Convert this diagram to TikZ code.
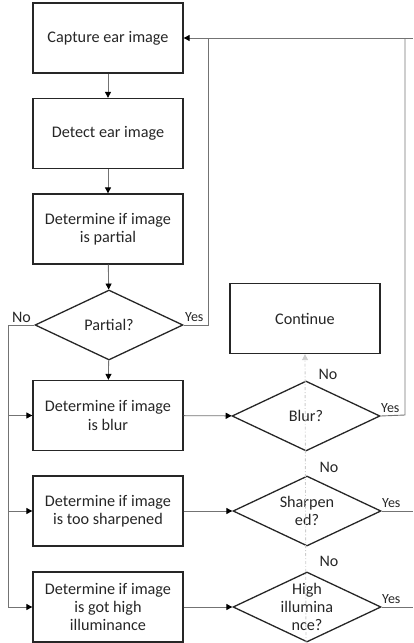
\documentclass[tikz,border=0pt]{standalone}
\usepackage{fontspec}
\setmainfont{Carlito}
\usetikzlibrary{shapes.geometric,arrows.meta}

\tikzset{
    procbox/.style={draw=black!85, line width=1.3pt, minimum width=150pt, minimum height=70pt,
        align=center, font=\fontsize{16.2}{18.4}\selectfont, text=black!85},
    decision/.style={draw=black!85, line width=1.3pt, diamond, inner sep=0pt,
        minimum width=148pt, minimum height=70pt},
    qtext/.style={align=center, font=\fontsize{16.2}{18.4}\selectfont, text=black!85},
    link/.style={draw=black!55, line width=0.9pt},
    arrow/.style={link, -{Triangle[length=6pt,width=6pt,fill=black,color=black]}},
    faint/.style={draw=black!20, line width=0.9pt, dash dot, -{Triangle[length=6pt,width=6pt]}},
    nolbl/.style={font=\fontsize{16}{18}\selectfont, text=black!85},
    yeslbl/.style={font=\fontsize{14}{16}\selectfont, text=black!85}
}

\begin{document}
\begin{tikzpicture}[x=1pt,y=-1pt]
    \useasboundingbox (0,0) rectangle (413,643);

    % Left column of steps
    \node[procbox] (cap) at (108,38) {Capture ear image};
    \node[procbox] (det) at (108,133.5) {Detect ear image};
    \node[procbox] (part) at (108,229) {Determine if image\\is partial};
    \node[decision, label={[qtext]center:Partial?}] (partq) at (109,325) {};
    \node[procbox] (blurb) at (108,415.5) {Determine if image\\is blur};
    \node[procbox] (sharpb) at (108,511) {Determine if image\\is too sharpened};
    \node[procbox] (highb) at (108,607) {Determine if image\\is got high\\illuminance};

    % Right column of checks
    \node[procbox] (cont) at (305,318.5) {Continue};
    \node[decision, label={[qtext]center:Blur?}] (blurq) at (306,416) {};
    \node[decision, label={[qtext]center:Sharpen\\ed?}] (sharpq) at (307,511) {};
    \node[decision, label={[qtext]center:High\\illumina\\nce?}] (highq) at (307,607) {};

    % Helper points for the loops
    \coordinate (noline) at (8,325);
    \coordinate (backin) at (208,325);
    \coordinate (backtop) at (208,38);
    \coordinate (topend) at (413,38);
    \coordinate (yesline) at (405,415);
    \coordinate (yestop) at (405,38);
    \coordinate (sharpend) at (413,511);
    \coordinate (highend) at (413,607);
    \coordinate (faintstart) at (306,643);

    % Main flow downwards
    \draw[arrow] (cap) -- (det);
    \draw[arrow] (det) -- (part);
    \draw[arrow] (part) -- (partq);
    \draw[arrow] (partq) -- (blurb);

    % Boxes into checks
    \draw[arrow] (blurb) -- (blurq);
    \draw[arrow] (sharpb) -- (sharpq);
    \draw[arrow] (highb) -- (highq);

    % No branch of Partial?
    \draw[link] (partq.west) -- (noline) -- (noline |- highb.west);
    \draw[arrow] (noline |- blurb.west) -- (blurb.west);
    \draw[arrow] (noline |- sharpb.west) -- (sharpb.west);
    \draw[arrow] (noline |- highb.west) -- (highb.west);

    % Yes branches back to capture
    \draw[link] (partq.east) -- (backin) -- (backtop);
    \draw[arrow] (topend) -- (cap.east);
    \draw[link] (blurq.east) -- (yesline) -- (yestop);
    \draw[link] (sharpq.east) -- (sharpend);
    \draw[link] (highq.east) -- (highend);

    % Faint path up to continue
    \draw[faint] (faintstart) -- (cont.south);

    % Branch labels
    \node[nolbl, anchor=base east] (lnp) at ([yshift=3pt]partq.west) {No};
    \node[yeslbl, anchor=base west] (lyp) at ([yshift=4pt,xshift=-2pt]partq.east) {Yes};
    \node[nolbl, anchor=base west] (lnb) at ([xshift=9pt,yshift=1pt]blurq.north) {No};
    \node[yeslbl, anchor=base west] (lyb) at ([yshift=4pt,xshift=-3pt]blurq.east) {Yes};
    \node[nolbl, anchor=base west] (lns) at ([xshift=9pt,yshift=3pt]sharpq.north) {No};
    \node[yeslbl, anchor=base west] (lys) at ([yshift=4pt,xshift=-3pt]sharpq.east) {Yes};
    \node[nolbl, anchor=base west] (lnh) at ([xshift=9pt,yshift=5pt]highq.north) {No};
    \node[yeslbl, anchor=base west] (lyh) at ([yshift=4pt,xshift=-3pt]highq.east) {Yes};

\end{tikzpicture}
\end{document}
